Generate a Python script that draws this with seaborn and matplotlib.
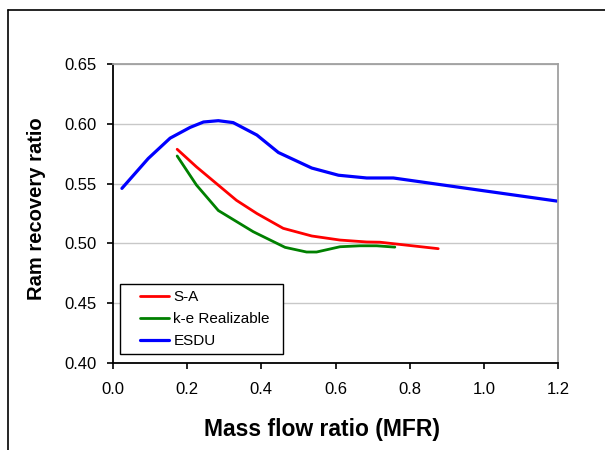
# Ram recovery ratio vs mass flow ratio
import numpy as np
import pandas as pd
import matplotlib
matplotlib.use("Agg")
import matplotlib.pyplot as plt
import seaborn as sns
from matplotlib.lines import Line2D
from matplotlib.legend_handler import HandlerLine2D
from matplotlib.ticker import FormatStrFormatter, MultipleLocator

# Data
sa_mfr = [0.173, 0.225, 0.279, 0.333, 0.388, 0.459, 0.536, 0.612, 0.684, 0.72, 0.877]
sa_rr = [0.5787, 0.564, 0.550, 0.536, 0.525, 0.5126, 0.5062, 0.5028, 0.5012, 0.501, 0.4956]

ke_mfr = [0.173, 0.225, 0.284, 0.378, 0.464, 0.522, 0.549, 0.612, 0.666, 0.711, 0.760]
ke_rr = [0.5731, 0.5488, 0.5275, 0.5098, 0.4967, 0.4928, 0.4928, 0.4972, 0.498, 0.498, 0.4969]

esdu_mfr = [0.024, 0.095, 0.154, 0.208, 0.244, 0.284, 0.324, 0.388, 0.446, 0.536, 0.608, 0.684, 0.756, 1.0, 1.197]
esdu_rr = [0.546, 0.571, 0.588, 0.597, 0.6015, 0.6026, 0.601, 0.5906, 0.576, 0.563, 0.557, 0.5547, 0.5547, 0.544, 0.5354]

sa = pd.DataFrame({"mfr": sa_mfr, "rr": sa_rr})
ke = pd.DataFrame({"mfr": ke_mfr, "rr": ke_rr})
esdu = pd.DataFrame({"mfr": esdu_mfr, "rr": esdu_rr})


class IndentedLine(HandlerLine2D):
    # legend line with blank space in front, like the Excel legend
    def create_artists(self, legend, orig_handle, xdescent, ydescent, width, height, fontsize, trans):
        artists = super().create_artists(legend, orig_handle, xdescent, ydescent, width, height, fontsize, trans)
        for a in artists:
            xd = np.asarray(a.get_xdata(), dtype=float)
            if len(xd) >= 2:
                xd = xd.copy()
                xd[0] += 9.6
                a.set_xdata(xd)
        return artists


sns.set_style("white")
plt.rcParams["font.family"] = ["Liberation Sans", "DejaVu Sans"]
plt.rcParams["text.color"] = "black"
plt.rcParams["axes.labelcolor"] = "black"
plt.rcParams["xtick.color"] = "black"
plt.rcParams["ytick.color"] = "black"

fig = plt.figure(figsize=(6.05, 4.5), dpi=100)
ax = fig.add_axes([0.1868, 0.1933, 0.7355, 0.6645])

sns.lineplot(data=sa, x="mfr", y="rr", color="#ff0000", linewidth=2, sort=False, label="S-A", ax=ax)
sns.lineplot(data=ke, x="mfr", y="rr", color="#008000", linewidth=2, sort=False, label="k-e Realizable", ax=ax)
sns.lineplot(data=esdu, x="mfr", y="rr", color="#0000ff", linewidth=2.3, sort=False, label="ESDU", ax=ax)

ax.set_xlim(0, 1.2)
ax.set_ylim(0.40, 0.65)
ax.xaxis.set_major_locator(MultipleLocator(0.2))
ax.yaxis.set_major_locator(MultipleLocator(0.05))
ax.xaxis.set_major_formatter(FormatStrFormatter("%.1f"))
ax.yaxis.set_major_formatter(FormatStrFormatter("%.2f"))
ax.grid(axis="y", color="#c8c8c8", linewidth=1)
ax.tick_params(axis="both", direction="out", length=4.5, width=1.2, color="black",
               labelcolor="black", labelsize=12, bottom=True, left=True)
ax.tick_params(axis="y", pad=7)
ax.tick_params(axis="x", pad=9)

for side in ["left", "bottom"]:
    ax.spines[side].set_color("black")
    ax.spines[side].set_linewidth(1.3)
for side in ["top", "right"]:
    ax.spines[side].set_color("#a0a0a0")
    ax.spines[side].set_linewidth(1.3)

ax.set_xlabel("Mass flow ratio (MFR)", fontsize=16.5, fontweight="bold", labelpad=15, color="black")
ax.xaxis.label.set_x(0.469)
ax.set_ylabel("Ram recovery ratio", fontsize=14.5, fontweight="bold", labelpad=13.5, color="black")
ax.yaxis.label.set_y(0.515)

leg = ax.legend(loc="lower left", bbox_to_anchor=(0.016, 0.029, 0.367, 0.2), mode="expand",
                borderaxespad=0, fancybox=False, edgecolor="black", framealpha=1, fontsize=11,
                handlelength=2.77, handletextpad=0.31, labelspacing=0.53, borderpad=0.4,
                handler_map={Line2D: IndentedLine()})
leg.get_frame().set_linewidth(1)
for t in leg.get_texts():
    t.set_color("black")

# outer frame (left and top edges visible in the reference)
fig.add_artist(Line2D([7.5 / 605, 7.5 / 605], [0, 1 - 9.5 / 450], transform=fig.transFigure,
                      color="black", linewidth=1.2))
fig.add_artist(Line2D([7.5 / 605, 1], [1 - 9.5 / 450, 1 - 9.5 / 450], transform=fig.transFigure,
                      color="black", linewidth=1.2))

fig.savefig("out.png", dpi=100)
